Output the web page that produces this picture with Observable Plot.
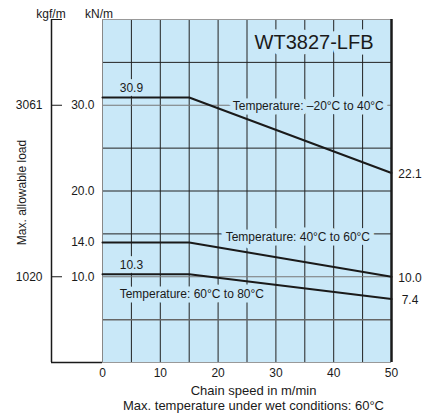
<!DOCTYPE html>
<html><head><meta charset="utf-8">
<script src="https://cdn.jsdelivr.net/npm/d3@7"></script>
<script src="https://cdn.jsdelivr.net/npm/@observablehq/plot@0.6"></script>
<style>
body{margin:0;background:#fff;}
#chart{width:432px;height:419px;}
svg{font-family:"Liberation Sans",Arial,Helvetica,sans-serif;}
</style></head><body><div id="chart"></div>
<script>
// ---- data ----
const speeds = [0, 15, 50];                       // m/min
const loadLowTemp = [30.9, 30.9, 22.1];           // -20°C to 40°C
const loadMidTemp = [14.0, 14.0, 10.0];           // 40°C to 60°C
const loadHighTemp = [10.3, 10.3, 7.4];           // 60°C to 80°C
const seriesNames = ["Temperature: –20°C to 40°C", "Temperature: 40°C to 60°C", "Temperature: 60°C to 80°C"];
const xTicks = [0, 10, 20, 30, 40, 50];
const kNTicks = [30, 20, 14, 10];
const kgfTickValues = [30, 10];
const kgfTickLabels = ["3061", "1020"];
const startLabels = [30.9, 10.3];
const endLabels = [22.1, 10.0, 7.4];

const seriesLoads = [loadLowTemp, loadMidTemp, loadHighTemp];
const rows = seriesLoads.flatMap((arr, i) => arr.map((v, j) => ({speed: speeds[j], load: v, series: seriesNames[i]})));

const bg = "#c9e8f8";
const ink = "#1a1a1a";

const plot = Plot.plot({
  width: 432, height: 419,
  marginLeft: 102, marginRight: 41, marginTop: 19, marginBottom: 57,
  style: {fontFamily: '"Liberation Sans",Arial,sans-serif', fontSize: "12px", color: ink, background: "#fff"},
  x: {domain: [0, 50]},
  y: {domain: [0, 40]},
  marks: [
    Plot.frame({fill: bg, stroke: "none"}),
    // grid
    Plot.ruleX(d3.range(5, 50, 5), {stroke: "#222", strokeWidth: 1}),
    Plot.ruleY([35, 25, 20, 15], {stroke: "#222", strokeWidth: 1}),
    Plot.ruleY([30, 10], {stroke: "#777", strokeWidth: 1}),
    Plot.ruleY([5], {stroke: "#666", strokeWidth: 1.5}),
    // plot borders
    Plot.ruleX([0], {stroke: "#888", strokeWidth: 1}),
    Plot.ruleY([40], {stroke: "#999", strokeWidth: 1}),
    Plot.ruleY([0], {stroke: "#999", strokeWidth: 1}),
    // title
    Plot.text(["WT3827-LFB"], {frameAnchor: "top-right", dx: -18, dy: 23, fontSize: 20, textAnchor: "end", lineAnchor: "middle", fill: ink, stroke: bg, strokeWidth: 11, paintOrder: "stroke"}),
    // series labels (with background halo)
    Plot.text([seriesNames[0]], {x: 35.6, y: 30, dy: 1, fontSize: 12, lineAnchor: "middle", fill: ink, stroke: bg, strokeWidth: 9, paintOrder: "stroke"}),
    Plot.text([seriesNames[1]], {x: 33.8, y: 15, dy: 3, fontSize: 12, lineAnchor: "middle", fill: ink, stroke: bg, strokeWidth: 9, paintOrder: "stroke"}),
    Plot.text([seriesNames[2]], {x: 15.45, y: 8, fontSize: 12, lineAnchor: "middle", fill: ink, stroke: bg, strokeWidth: 9, paintOrder: "stroke"}),
    // start value labels
    Plot.text(startLabels, {x: 5, y: d => d, dy: -9, text: d => d.toFixed(1), fontSize: 12, lineAnchor: "middle", fill: ink, stroke: bg, strokeWidth: 8, paintOrder: "stroke"}),
    // series lines
    Plot.line(rows, {x: "speed", y: "load", z: "series", stroke: ink, strokeWidth: 2}),
    // right border
    Plot.ruleX([50], {stroke: ink, strokeWidth: 2.5}),
    // end value labels
    Plot.text(endLabels, {x: 50, y: d => d, dx: 18.5, dy: 1, text: d => d.toFixed(1), fontSize: 12, lineAnchor: "middle", textAnchor: "middle", fill: ink}),
    // kN/m axis
    Plot.axisY({ticks: kNTicks, tickFormat: d => d.toFixed(1), tickSize: 0, tickPadding: 8, fontSize: 12, label: null, color: ink}),
    // kgf/m axis
    Plot.ruleX([0], {y1: 0, y2: 40, dx: -51, stroke: ink, strokeWidth: 1.5}),
    Plot.axisY({ticks: [40, ...kgfTickValues], tickFormat: d => { const i = kgfTickValues.indexOf(d); return i < 0 ? "" : kgfTickLabels[i]; }, tickSize: 11, tickPadding: 9, dx: -40, fontSize: 12, label: null, color: ink}),
    Plot.axisY({ticks: [0], tickSize: 51, fill: "none", label: null, stroke: ink, strokeWidth: 1.5}),
    // x axis
    Plot.axisX({ticks: xTicks, tickSize: 0, tickPadding: 6, fontSize: 12, label: null, color: ink}),
    // axis titles
    Plot.text(["kgf/m"], {frameAnchor: "top-left", dx: -51.5, dy: -5.5, fontSize: 12, textAnchor: "middle", lineAnchor: "middle", fill: ink}),
    Plot.text(["kN/m"], {frameAnchor: "top-left", dx: -3.5, dy: -5.5, fontSize: 12, textAnchor: "middle", lineAnchor: "middle", fill: ink}),
    Plot.text(["Max. allowable load"], {frameAnchor: "left", dx: -80, dy: 1.5, rotate: -90, fontSize: 12, textAnchor: "middle", lineAnchor: "middle", fill: ink}),
    Plot.text(["Chain speed in m/min"], {frameAnchor: "bottom", dx: 6.5, dy: 28, fontSize: 13, textAnchor: "middle", lineAnchor: "middle", fill: ink}),
    Plot.text(["Max. temperature under wet conditions: 60°C"], {frameAnchor: "bottom", dx: 6.5, dy: 43.5, fontSize: 13, textAnchor: "middle", lineAnchor: "middle", fill: ink})
  ]
});
document.getElementById("chart").appendChild(plot);
</script>
</body></html>
